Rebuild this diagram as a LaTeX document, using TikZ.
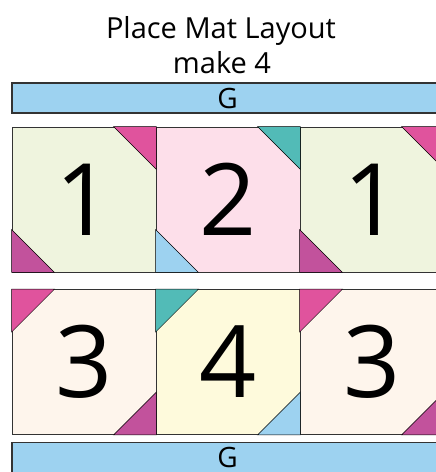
\documentclass[tikz,border=0pt]{standalone}
\usepackage{fontspec}
\setmainfont{Open Sans}
\definecolor{barblue}{HTML}{9DD2F0}
\definecolor{hotpink}{HTML}{E0539D}
\definecolor{plum}{HTML}{C2529C}
\definecolor{teal}{HTML}{52BBB7}
\definecolor{sage}{HTML}{EFF4DE}
\definecolor{blush}{HTML}{FDDFEA}
\definecolor{cream}{HTML}{FEF5EC}
\definecolor{butter}{HTML}{FEFADC}

\begin{document}
\begin{tikzpicture}[
  x=1pt, y=-1pt,
  title/.style={font=\fontsize{29}{29}\selectfont, inner sep=0pt, anchor=base},
  bar/.style={draw=black!80, line width=1.2pt, fill=barblue,
              minimum width=431pt, minimum height=30pt, inner sep=0pt,
              font=\fontsize{28}{28}\selectfont},
  blk/.style={draw=black!80, line width=0.9pt, minimum width=144pt,
              minimum height=145pt, inner sep=0pt,
              font=\fontsize{100}{100}\selectfont},
  tri/.style={draw=black, line width=0.5pt}]

\useasboundingbox (0,0) rectangle (436,472);
\clip (0,0) rectangle (436,472);

\node[title] (ttl) at (221,38) {Place Mat Layout};
\node[title] (mk)  at (222,73) {make 4};
\node[bar] (gtop) at (227.5,98) {G};

% row of 1 - 2 - 1
\node[blk, fill=sage]  (r1a) at (84,199.5)  {1};
\node[blk, fill=blush] (r1b) at (228,199.5) {2};
\node[blk, fill=sage]  (r1c) at (372,199.5) {1};

% row of 3 - 4 - 3
\node[blk, fill=cream]  (r2a) at (84,362)  {3};
\node[blk, fill=butter] (r2b) at (228,362) {4};
\node[blk, fill=cream]  (r2c) at (372,362) {3};

\node[bar] (gbot) at (227.5,457.5) {G};

% corner triangles
\draw[tri, fill=hotpink] (r1a.north east) -- ++(-43,0) -- ++(43,43) -- cycle;
\draw[tri, fill=plum]    (r1a.south west) -- ++(43,0) -- ++(-43,-43) -- cycle;
\draw[tri, fill=teal]    (r1b.north east) -- ++(-43,0) -- ++(43,43) -- cycle;
\draw[tri, fill=barblue] (r1b.south west) -- ++(43,0) -- ++(-43,-43) -- cycle;
\draw[tri, fill=hotpink] (r1c.north east) -- ++(-43,0) -- ++(43,43) -- cycle;
\draw[tri, fill=plum]    (r1c.south west) -- ++(43,0) -- ++(-43,-43) -- cycle;

\draw[tri, fill=hotpink] (r2a.north west) -- ++(43,0) -- ++(-43,43) -- cycle;
\draw[tri, fill=plum]    (r2a.south east) -- ++(-43,0) -- ++(43,-43) -- cycle;
\draw[tri, fill=teal]    (r2b.north west) -- ++(43,0) -- ++(-43,43) -- cycle;
\draw[tri, fill=barblue] (r2b.south east) -- ++(-43,0) -- ++(43,-43) -- cycle;
\draw[tri, fill=hotpink] (r2c.north west) -- ++(43,0) -- ++(-43,43) -- cycle;
\draw[tri, fill=plum]    (r2c.south east) -- ++(-43,0) -- ++(43,-43) -- cycle;
\end{tikzpicture}
\end{document}
